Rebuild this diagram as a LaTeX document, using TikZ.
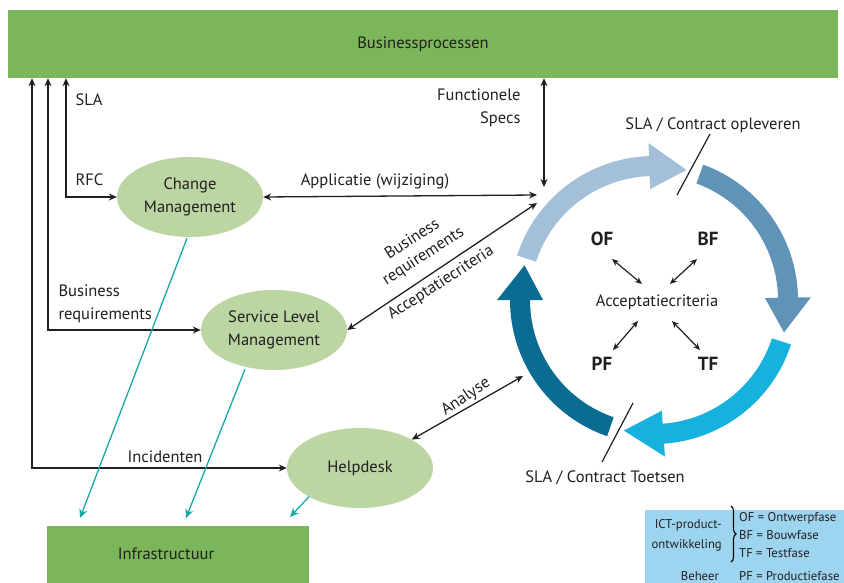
\documentclass[tikz,border=0pt]{standalone}
\usepackage{fontspec}
\setmainfont{PT Sans}
\usetikzlibrary{arrows.meta,shapes.geometric,decorations.pathreplacing}
\definecolor{barGreen}{HTML}{7CB65A}
\definecolor{ellGreen}{HTML}{BCD6A3}
\definecolor{tealLine}{HTML}{19A8A5}
\definecolor{legBlue}{HTML}{9DD5F0}
\definecolor{cycA}{HTML}{A4C0D8}
\definecolor{cycB}{HTML}{5F93B8}
\definecolor{cycC}{HTML}{17B1DE}
\definecolor{cycD}{HTML}{0A6C92}
\definecolor{ink}{HTML}{231F20}

\begin{document}
\begin{tikzpicture}[x=1pt,y=-1pt,
  font=\fontsize{16.5}{19}\selectfont, text=ink,
  block/.style={fill=barGreen, inner sep=0pt},
  proc/.style={ellipse, fill=ellGreen, align=center, inner sep=0pt,
    minimum width=146pt, minimum height=80pt,
    font=\fontsize{16.5}{23}\selectfont},
  both/.style={draw=ink, line width=1.3pt,
    {Stealth[length=8pt,width=7pt]}-{Stealth[length=8pt,width=7pt]}},
  small/.style={draw=ink, line width=1.2pt,
    {Stealth[length=7pt,width=6pt]}-{Stealth[length=7pt,width=6pt]}},
  infra/.style={draw=tealLine, line width=1.3pt, -{Stealth[length=9pt,width=8pt]}},
  phase/.style={font=\fontsize{19}{21}\selectfont\bfseries},
  legend/.style={font=\fontsize{12.7}{15}\selectfont, inner sep=0pt},
  slash/.style={draw=ink, line width=1.2pt}]

\useasboundingbox (0,0) rectangle (844,583);
\fill[white] (0,0) rectangle (844,583);

% blocks
\node[block, minimum width=830pt, minimum height=68pt] (bp) at (423,44) {Businessprocessen};
\node[block, minimum width=262pt, minimum height=57pt] (infra) at (178,554.5) {};
\node (tInfra) at (166,554) {Infrastructuur};

% processes
\node[proc] (cm) at (190,197) {Change\\Management};
\node[proc] (slm) at (274,330) {Service Level\\Management};
\node[proc] (hd) at (360,468) {Helpdesk};

% left feedback lines to the business processes
\coordinate (l1) at (32,468);
\coordinate (l2) at (48,330);
\coordinate (l3) at (66,197);
\draw[both] (bp.south -| l1) -- (l1) -- (hd.west);
\draw[both] (bp.south -| l2) -- (l2) -- (slm.west);
\draw[both] (bp.south -| l3) -- (l3) -- (cm.west);
\node[anchor=west] (tSLA) at (72,100) {SLA};
\node[anchor=west] (tRFC) at (72,180) {RFC};
\node[anchor=west, align=left, font=\fontsize{16.5}{23}\selectfont] (tBR) at (55,304) {Business\\requirements};
\node (tInc) at (165,457) {Incidenten};

% links to the development cycle
\coordinate (cApp) at (537,195);
\coordinate (cFS) at (544,187);
\coordinate (cBR) at (537,203);
\coordinate (cAn) at (523,376);
\draw[both] (cm.east) -- (cApp);
\node (tApp) at (375,181) {Applicatie (wijziging)};
\draw[both] (bp.south -| cFS) -- (cFS);
\node[anchor=east, align=right, font=\fontsize{16.5}{23}\selectfont] (tFS) at (524,108) {Functionele\\Specs};
\draw[both] (cBR) -- (slm.east);
\node[rotate=33, align=center, font=\fontsize{16.5}{20}\selectfont] (tBR2) at (418,248) {Business\\requirements};
\node[rotate=33] (tAC) at (441,283) {Acceptatiecriteria};
\draw[both] (cAn) -- (hd.north east);
\node[rotate=34] (tAn) at (466,397) {Analyse};

% infrastructure links
\draw[infra] (cm.south) ++(-3,1) -- (80,518);
\draw[infra] (slm.south) ++(-29,-1) -- (186,518);
\draw[infra] (hd.south west) ++(1,0) -- (290,517);

% development cycle
\begin{scope}[shift={(654,300)}, yscale=-1]
  \def\ro{144}\def\ri{124}\def\rm{134}\def\hw{23}
  \newcommand\cycarc[4]{%
    \fill[#1] (#2:\ro) arc[start angle=#2, end angle=#3, radius=\ro]
      -- (#3:\rm+\hw) -- (#4:\rm) -- (#3:\rm-\hw) -- (#3:\ri)
      arc[start angle=#3, end angle=#2, radius=\ri] -- cycle;}
  \cycarc{cycA}{162}{92}{76}
  \cycarc{cycB}{70}{1}{-14}
  \cycarc{cycC}{-18}{-86}{-103}
  \cycarc{cycD}{251}{180}{165}
\end{scope}

\coordinate (s1a) at (677,195); \coordinate (s1b) at (710,134);
\coordinate (s2a) at (633,403); \coordinate (s2b) at (602,462);
\draw[slash] (s1a) -- (s1b);
\draw[slash] (s2a) -- (s2b);
\node (tOpl) at (713,125) {SLA / Contract opleveren};
\node (tToe) at (605,478) {SLA / Contract Toetsen};

\node (ac) at (657,302) {Acceptatiecriteria};
\node[phase] (of) at (602,239) {OF};
\node[phase] (bf) at (708,239) {BF};
\node[phase] (pf) at (602,364) {PF};
\node[phase] (tf) at (708,364) {TF};
\coordinate (aOF) at (642,284); \coordinate (aBF) at (670,284);
\coordinate (aPF) at (638,321); \coordinate (aTF) at (672,321);
\draw[small] (of) ++(10,20) -- (aOF);
\draw[small] (bf) ++(-11,20) -- (aBF);
\draw[small] (pf) ++(11,-14) -- (aPF);
\draw[small] (tf) ++(-8,-14) -- (aTF);

% legend
\fill[legBlue] (645,510) rectangle (844,583);
\node[legend, anchor=east, align=right, font=\fontsize{12.7}{20}\selectfont] (lg1) at (722,535) {ICT-product-\\ontwikkeling};
\draw[line width=1.1pt, decorate, decoration={brace, amplitude=5pt}] (731,506) -- (731,562);
\node[legend, anchor=west] (lg2) at (739,518) {OF = Ontwerpfase};
\node[legend, anchor=west] (lg3) at (739,535) {BF = Bouwfase};
\node[legend, anchor=west] (lg4) at (739,553) {TF = Testfase};
\node[legend, anchor=east] (lg5) at (719,576) {Beheer};
\node[legend, anchor=west] (lg6) at (739,576) {PF = Productiefase};
\end{tikzpicture}
\end{document}
